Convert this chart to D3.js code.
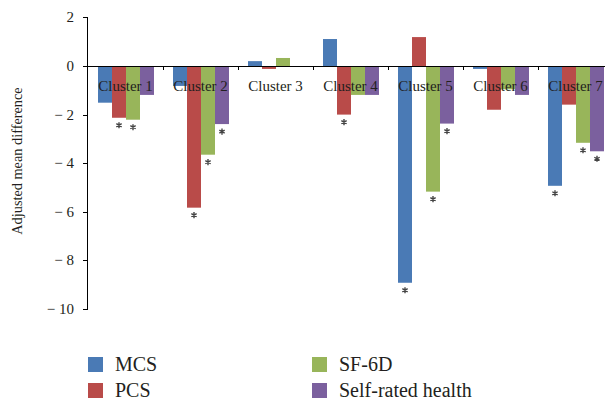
<!DOCTYPE html>
<html><head><meta charset="utf-8">
<script src="https://cdn.jsdelivr.net/npm/d3@7"></script>
<style>body{margin:0;background:#fff}svg{display:block}text{font-family:"Liberation Serif","DejaVu Serif",serif}</style>
</head><body>
<svg id="c" width="605" height="400"></svg>
<script>
const clusters = ["Cluster 1","Cluster 2","Cluster 3","Cluster 4","Cluster 5","Cluster 6","Cluster 7"];
const seriesNames = ["MCS","PCS","SF-6D","Self-rated health"];
const colors = ["#4a7ab5","#b94b49","#98b55a","#7b609e"];
const MCS    = [-1.51,-0.82, 0.20, 1.11,-8.92,-0.12,-4.93];
const PCS    = [-2.13,-5.83,-0.12,-2.00, 1.19,-1.80,-1.59];
const SF6D   = [-2.21,-3.65, 0.33,-1.19,-5.17,-0.96,-3.16];
const SRH    = [-1.19,-2.39, 0.00,-1.19,-2.37,-1.19,-3.51];
const signif = [[0,0,0,0,1,0,1],[1,1,0,1,0,0,0],[1,1,0,0,1,0,1],[0,1,0,0,1,0,1]];
const yTicks = [2,0,-2,-4,-6,-8,-10];
const values = [MCS,PCS,SF6D,SRH];

const svg = d3.select("#c");
const y = d3.scaleLinear().domain([-10,2]).range([309,17.4]);
const x0 = d3.scaleBand().domain(clusters).range([88,613]);
const x1 = d3.scaleBand().domain(seriesNames).range([10,66]);
const star = d3.symbol().type(d3.symbolAsterisk).size(26);

// bars
seriesNames.forEach((s,si)=>{
  svg.append("g").selectAll("rect").data(clusters).join("rect")
    .attr("x",(c)=>x0(c)+x1(s))
    .attr("width",x1.bandwidth())
    .attr("y",(c,i)=>y(Math.max(0,values[si][i])))
    .attr("height",(c,i)=>Math.abs(y(values[si][i])-y(0)))
    .attr("fill",colors[si]);
  svg.append("g").selectAll("path").data(clusters.filter((c,i)=>signif[si][i]))
    .join("path")
    .attr("transform",c=>`translate(${x0(c)+x1(s)+x1.bandwidth()/2},${y(values[si][clusters.indexOf(c)])+7.5})`)
    .attr("d",star).attr("fill","none").attr("stroke","#444").attr("stroke-width",1.4);
});

// y axis
svg.append("line").attr("x1",87.5).attr("x2",87.5).attr("y1",y(2)).attr("y2",y(-10)).attr("stroke","#000").attr("stroke-width",1);
svg.append("g").selectAll("line").data(yTicks).join("line")
  .attr("x1",83).attr("x2",88).attr("y1",d=>Math.round(y(d))+0.5).attr("y2",d=>Math.round(y(d))+0.5).attr("stroke","#000");
svg.append("g").selectAll("text").data(yTicks).join("text")
  .attr("x",74).attr("y",d=>y(d)+5).attr("text-anchor","end").attr("font-size",15).attr("fill","#231f20")
  .text(d=>d<0?"\u2212 "+Math.abs(d):String(d));

// x axis at 0
svg.append("line").attr("x1",87).attr("x2",605).attr("y1",Math.round(y(0))+0.5).attr("y2",Math.round(y(0))+0.5).attr("stroke","#000");
svg.append("g").selectAll("line").data(clusters.slice(1)).join("line")
  .attr("x1",c=>Math.round(x0(c))+0.5).attr("x2",c=>Math.round(x0(c))+0.5)
  .attr("y1",y(0)).attr("y2",y(0)+4).attr("stroke","#000");
svg.append("g").selectAll("text").data(clusters).join("text")
  .attr("x",c=>x0(c)+x0.bandwidth()/2).attr("y",y(0)+25)
  .attr("text-anchor","middle").attr("font-size",15).attr("fill","#231f20").text(c=>c);

// y label
svg.append("text").attr("transform","translate(22,161) rotate(-90)")
  .attr("text-anchor","middle").attr("font-size",14.3).attr("fill","#231f20").text("Adjusted mean difference");

// legend
const lx = [88,312], ly = [357,383];
seriesNames.forEach((s,i)=>{
  const col = Math.floor(i/2), row = i%2;
  svg.append("rect").attr("x",lx[col]).attr("y",ly[row]).attr("width",15).attr("height",15).attr("fill",colors[i]);
  svg.append("text").attr("x",lx[col]+27).attr("y",ly[row]+14).attr("font-size",20).attr("fill","#231f20").text(s);
});
</script>
</body></html>
